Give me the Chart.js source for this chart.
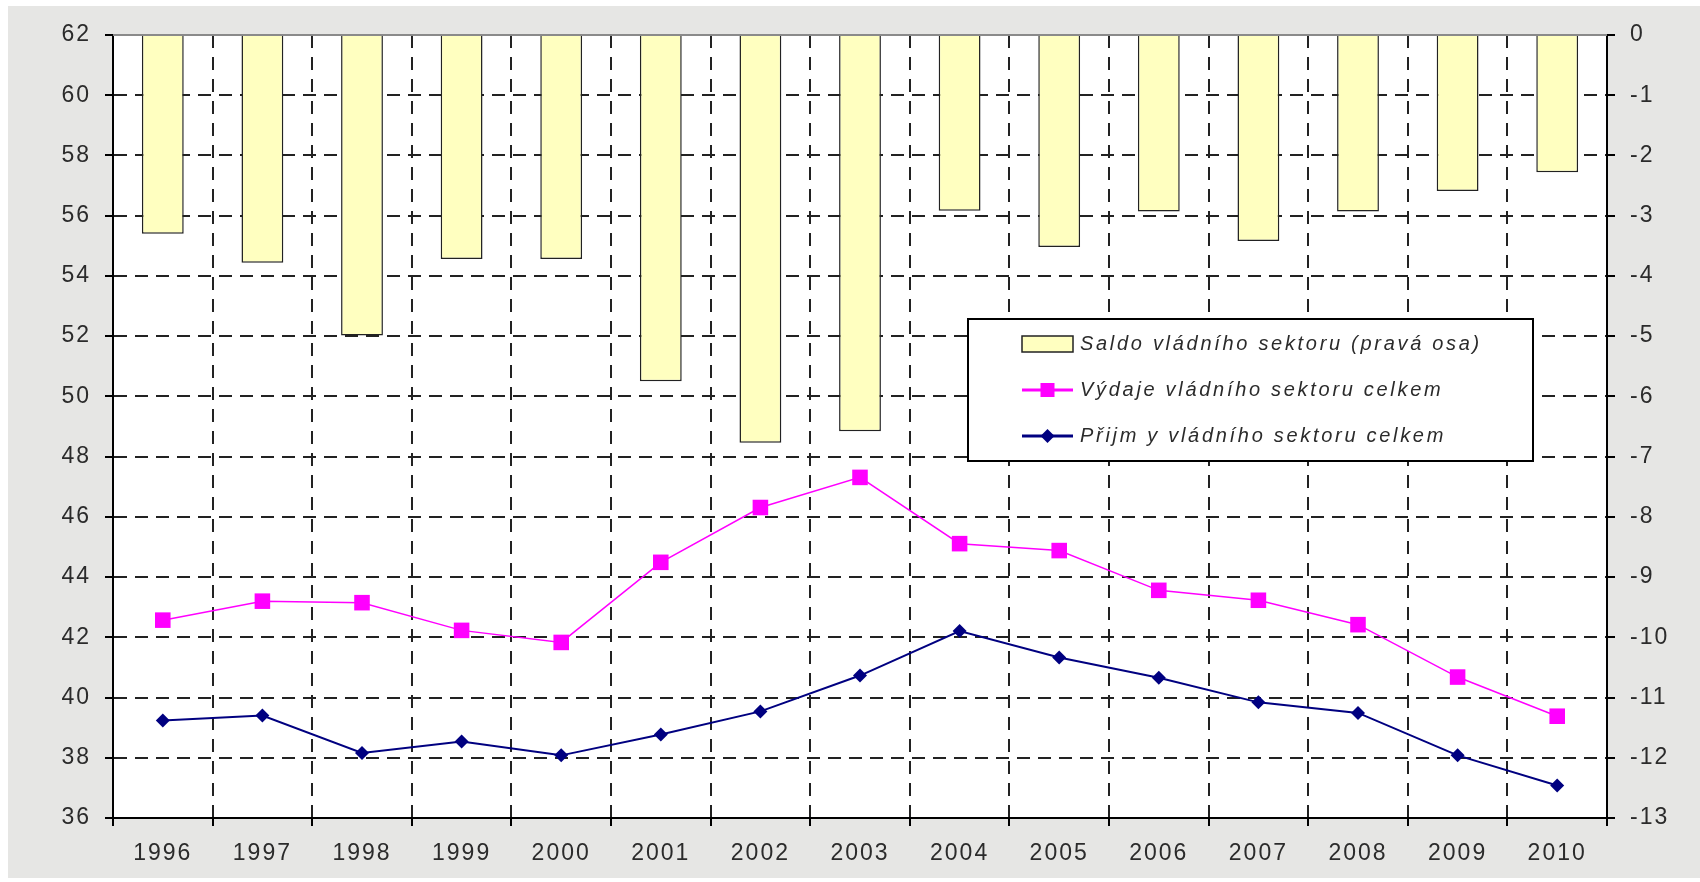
<!DOCTYPE html>
<html>
<head>
<meta charset="utf-8">
<script src="https://cdn.jsdelivr.net/npm/chart.js@4.4.0/dist/chart.umd.min.js"></script>
<style>
    html, body { margin: 0; padding: 0; background: #fff; }
    canvas { display: block; }
</style>
</head>
<body>
<canvas id="grafSaldo" width="1700" height="882"></canvas>
<script>
// === 1. DATA ===
const roky = ['1996', '1997', '1998', '1999', '2000', '2001', '2002', '2003',
              '2004', '2005', '2006', '2007', '2008', '2009', '2010'];

// saldo (prava osa)
const saldo = [-3.3, -3.78, -4.99, -3.72, -3.72, -5.75, -6.77, -6.58,
               -2.92, -3.52, -2.93, -3.42, -2.93, -2.59, -2.28];

// vydaje a prijmy (leva osa)
const vydaje = [42.57, 43.2, 43.15, 42.23, 41.83, 44.49, 46.31, 47.31,
                45.11, 44.88, 43.56, 43.23, 42.42, 40.68, 39.38];
const prijmy = [39.24, 39.4, 38.16, 38.54, 38.08, 38.77, 39.54, 40.73,
                42.21, 41.33, 40.66, 39.84, 39.49, 38.08, 37.08];

// osy
const levaOsaMin = 36, levaOsaMax = 62, levaOsaKrok = 2;
const pravaOsaMin = -13, pravaOsaMax = 0, pravaOsaKrok = 1;

const popisky = [
    'Saldo vládního sektoru (pravá osa)',
    'Výdaje vládního sektoru celkem',
    'Přijm y vládního sektoru celkem'
];

// === 2. STYL ===
const PISMO = "'Liberation Sans', Arial, sans-serif";
const ROZPAL = '2px';
const ROZPAL_LEGENDA = '2.7px';
const barvaTextu = '#2b2b2b';
const barvaMrizky = '#222';

// pozadi, bila plocha grafu, rozpal pisma
const pozadiPlugin = {
    id: 'pozadi',
    beforeLayout(chart) {
        chart.ctx.letterSpacing = ROZPAL;
    },
    beforeDraw(chart) {
        const { ctx, chartArea: a, width, height } = chart;
        ctx.save();
        ctx.fillStyle = '#fff';
        ctx.fillRect(0, 0, width, height);
        ctx.fillStyle = '#e6e6e4';
        ctx.fillRect(8, 6, width - 8, height - 10);
        ctx.fillStyle = '#fff';
        ctx.fillRect(a.left, a.top, a.right - a.left, a.bottom - a.top);
        ctx.restore();
        ctx.letterSpacing = ROZPAL;
    },
    afterDraw(chart) {
        // seda horni hrana plochy
        const { ctx, chartArea: a } = chart;
        ctx.save();
        ctx.strokeStyle = '#8a8a8a';
        ctx.lineWidth = 2;
        ctx.beginPath();
        ctx.moveTo(a.left, a.top);
        ctx.lineTo(a.right, a.top);
        ctx.stroke();
        ctx.restore();
    }
};

// legenda uvnitr grafu
const legendaPlugin = {
    id: 'legendaUvnitr',
    afterDraw(chart) {
        const ctx = chart.ctx;
        const box = { x: 968, y: 319, w: 565, h: 142 };
        ctx.save();
        ctx.fillStyle = '#fff';
        ctx.fillRect(box.x, box.y, box.w, box.h);
        ctx.strokeStyle = '#000';
        ctx.lineWidth = 2;
        ctx.strokeRect(box.x, box.y, box.w, box.h);

        const symX1 = 1022, symX2 = 1073, textX = 1080;
        const radky = [344, 390, 436];
        chart.data.datasets.forEach((ds, i) => {
            const y = radky[i];
            if (ds.type === 'bar') {
                ctx.fillStyle = ds.backgroundColor;
                ctx.fillRect(symX1, y - 8, symX2 - symX1, 16);
                ctx.strokeStyle = '#222';
                ctx.lineWidth = 1.5;
                ctx.strokeRect(symX1, y - 8, symX2 - symX1, 16);
            } else {
                ctx.strokeStyle = ds.borderColor;
                ctx.lineWidth = 3;
                ctx.beginPath();
                ctx.moveTo(symX1, y);
                ctx.lineTo(symX2, y);
                ctx.stroke();
                ctx.fillStyle = ds.borderColor;
                const cx = (symX1 + symX2) / 2;
                if (ds.pointStyle === 'rect') {
                    ctx.fillRect(cx - 7, y - 7, 14, 14);
                } else {
                    ctx.beginPath();
                    ctx.moveTo(cx, y - 7);
                    ctx.lineTo(cx + 7, y);
                    ctx.lineTo(cx, y + 7);
                    ctx.lineTo(cx - 7, y);
                    ctx.closePath();
                    ctx.fill();
                }
            }
            ctx.fillStyle = barvaTextu;
            ctx.font = 'italic 20px ' + PISMO;
            ctx.letterSpacing = ROZPAL_LEGENDA;
            ctx.textAlign = 'left';
            ctx.textBaseline = 'middle';
            ctx.fillText(ds.label, textX, y);
        });
        ctx.restore();
    }
};

const fontOs = { family: PISMO, size: 23 };

function spolecnaMrizka(extra) {
    return Object.assign({
        color: barvaMrizky,
        lineWidth: 2,
        tickLength: 8,
        tickColor: '#000',
        tickWidth: 2,
        tickBorderDash: []
    }, extra || {});
}

// === 3. GRAF ===
const ctx = document.getElementById('grafSaldo');
new Chart(ctx, {
    type: 'bar',
    data: {
        labels: roky,
        datasets: [
            {
                type: 'bar',
                label: popisky[0],
                data: saldo,
                yAxisID: 'y1',
                backgroundColor: '#FFFFC0',
                borderColor: '#222',
                borderWidth: 1.5,
                barPercentage: 0.42,
                categoryPercentage: 1,
                order: 3
            },
            {
                type: 'line',
                label: popisky[1],
                data: vydaje,
                yAxisID: 'y',
                borderColor: '#FF00FF',
                backgroundColor: '#FF00FF',
                borderWidth: 1.5,
                pointStyle: 'rect',
                pointRadius: 11,
                pointBorderWidth: 0,
                order: 1
            },
            {
                type: 'line',
                label: popisky[2],
                data: prijmy,
                yAxisID: 'y',
                borderColor: '#000080',
                backgroundColor: '#000080',
                borderWidth: 2,
                pointStyle: 'rectRot',
                pointRadius: 7,
                pointBorderWidth: 0,
                order: 2
            }
        ]
    },
    options: {
        responsive: false,
        animation: false,
        events: [],
        layout: { padding: { top: 35, left: 0, right: 0, bottom: 0 } },
        plugins: {
            legend: { display: false },
            tooltip: { enabled: false }
        },
        scales: {
            x: {
                offset: true,
                grid: spolecnaMrizka({ offset: true }),
                border: { display: true, color: '#000', width: 2, dash: [13, 9] },
                ticks: {
                    color: barvaTextu, font: fontOs, padding: 14,
                    maxRotation: 0, autoSkip: false
                },
                afterFit(s) { s.height = 64; }
            },
            y: {
                position: 'left',
                min: levaOsaMin,
                max: levaOsaMax,
                grid: spolecnaMrizka({
                    color: c => (c.tick && c.tick.value === levaOsaMax) ? 'rgba(0,0,0,0)' : barvaMrizky
                }),
                border: { display: true, color: '#000', width: 2, dash: [13, 8] },
                ticks: {
                    stepSize: levaOsaKrok, color: barvaTextu, font: fontOs, padding: 14,
                    callback: v => String(v)
                },
                afterFit(s) { s.width = 113; }
            },
            y1: {
                position: 'right',
                min: pravaOsaMin,
                max: pravaOsaMax,
                grid: spolecnaMrizka({ drawOnChartArea: false }),
                border: { display: true, color: '#000', width: 2 },
                ticks: {
                    stepSize: pravaOsaKrok, color: barvaTextu, font: fontOs, padding: 15,
                    callback: v => String(v)
                },
                afterFit(s) { s.width = 93; }
            }
        }
    },
    plugins: [pozadiPlugin, legendaPlugin]
});
</script>
</body>
</html>
